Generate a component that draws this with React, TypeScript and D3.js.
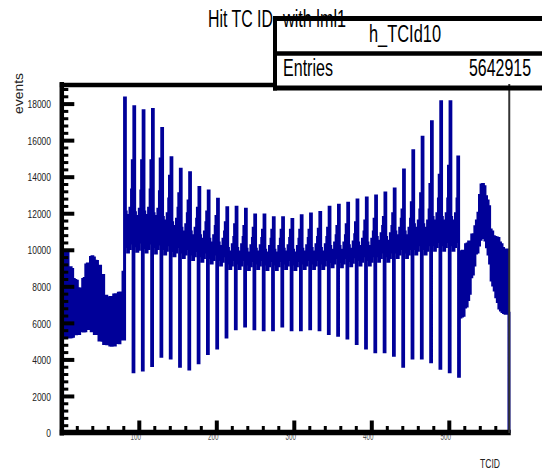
import React from "react";
import * as d3 from "d3";

// ---- data ----
const yTickValues = [0, 2000, 4000, 6000, 8000, 10000, 12000, 14000, 16000, 18000];
const yTickLabels = ["0", "2000", "4000", "6000", "8000", "10000", "12000", "14000", "16000", "18000"];
const xTickValues = [100, 200, 300, 400, 500];
const xTickLabels = ["100", "200", "300", "400", "500"];

// forward endcap, TC 1..80
const fwdEndcap = [
  9850, 5270, 9800, 5300, 9850, 5250, 9820, 5280, 9000, 5260,
  9050, 5270, 8950, 5300, 8400, 5450, 8350, 5430, 8300, 5460,
  7900, 5440, 7850, 5600, 7880, 5620, 8400, 5580, 8450, 5600,
  9200, 5740, 9250, 5720, 9180, 5750, 9600, 5600, 9650, 5620,
  9580, 5450, 9400, 5470, 9380, 5440, 9100, 5090, 9120, 5100,
  8600, 5080, 8620, 4900, 7450, 4920, 7480, 4890, 7400, 4910,
  7380, 4810, 7420, 4800, 7390, 4820, 7550, 4810, 7560, 4950,
  7540, 4960, 7650, 4940, 7660, 5150, 7640, 5160, 8800, 5140,
];

// barrel, TC 81..512 : 36 phi groups x 12 theta
const barrelGroups = [
  [18330, 12100, 10200, 11700, 9900, 11900, 10100, 12300, 10400, 13300, 14900, 3350],
  [17850, 12050, 10250, 11650, 9950, 11850, 10050, 12250, 10450, 13250, 14900, 3450],
  [17630, 12100, 10150, 11700, 9900, 11900, 10100, 12300, 10400, 13300, 14900, 3700],
  [17710, 12000, 10200, 11650, 9850, 11850, 10100, 12250, 10350, 13200, 15000, 4200],
  [16670, 11800, 10100, 11400, 9800, 11600, 10000, 12000, 10300, 12800, 14050, 4100],
  [15060, 11500, 10000, 11100, 9700, 11300, 9900, 11700, 10200, 12300, 13100, 3650],
  [14430, 11200, 9900, 10800, 9600, 11000, 9800, 11400, 10100, 12000, 12700, 3500],
  [14240, 11000, 9800, 10600, 9500, 10800, 9700, 11200, 10000, 11700, 12300, 3850],
  [13440, 10800, 9700, 10400, 9400, 10600, 9600, 11000, 9900, 11500, 12100, 4350],
  [13240, 10600, 9600, 10200, 9300, 10400, 9500, 10800, 9800, 11300, 11850, 4650],
  [12790, 10400, 9500, 10000, 9200, 10200, 9400, 10600, 9700, 11000, 11500, 5250],
  [12330, 10100, 9300, 9700, 9000, 9900, 9200, 10300, 9500, 10700, 11400, 5700],
  [12360, 10100, 9300, 9700, 9000, 9900, 9200, 10300, 9500, 10700, 11300, 5850],
  [12240, 10050, 9250, 9650, 8950, 9850, 9150, 10250, 9450, 10650, 11200, 5700],
  [11930, 10050, 9300, 9700, 9000, 9900, 9200, 10250, 9500, 10650, 11100, 5650],
  [11930, 10000, 9250, 9650, 8950, 9850, 9150, 10200, 9450, 10600, 11100, 5650],
  [11780, 10000, 9250, 9650, 8950, 9850, 9150, 10200, 9450, 10600, 11100, 5850],
  [11780, 10050, 9300, 9700, 9000, 9900, 9200, 10250, 9500, 10650, 11100, 5650],
  [11690, 10000, 9250, 9650, 8950, 9850, 9150, 10200, 9450, 10600, 11100, 5650],
  [11890, 10050, 9300, 9700, 9000, 9900, 9200, 10250, 9500, 10650, 11100, 5700],
  [11980, 10100, 9300, 9700, 9000, 9900, 9200, 10300, 9500, 10700, 11150, 5650],
  [12070, 10100, 9300, 9700, 9000, 9900, 9200, 10300, 9500, 10700, 11200, 5450],
  [12360, 10200, 9400, 9800, 9100, 10000, 9300, 10400, 9600, 10800, 11300, 5350],
  [12470, 10200, 9400, 9800, 9100, 10000, 9300, 10400, 9600, 10800, 11400, 5200],
  [12580, 10250, 9450, 9850, 9150, 10050, 9350, 10450, 9650, 10850, 11500, 4900],
  [12750, 10400, 9500, 10000, 9200, 10200, 9400, 10600, 9700, 11000, 11600, 4650],
  [12860, 10400, 9500, 10000, 9200, 10200, 9400, 10600, 9700, 11000, 11700, 4450],
  [12970, 10700, 9700, 10300, 9400, 10500, 9600, 10900, 9900, 11300, 11800, 4450],
  [13130, 10700, 9700, 10300, 9400, 10500, 9600, 10900, 9900, 11300, 12000, 4250],
  [13350, 11000, 9900, 10600, 9600, 10800, 9800, 11200, 10100, 11700, 12200, 3650],
  [14390, 11000, 9900, 10600, 9600, 10800, 9800, 11200, 10100, 11700, 12600, 4100],
  [15450, 11400, 10100, 11000, 9800, 11200, 10000, 11600, 10300, 12200, 13100, 4100],
  [16180, 11400, 10100, 11000, 9800, 11200, 10000, 11600, 10300, 12200, 13600, 3900],
  [17030, 11800, 10300, 11400, 10000, 11600, 10200, 12000, 10500, 12800, 14100, 3550],
  [18130, 11800, 10300, 11400, 10000, 11600, 10200, 12000, 10500, 12800, 14600, 3350],
  [18130, 11800, 10300, 11400, 10000, 11600, 10200, 12000, 10500, 12800, 15100, 3100],
];

// backward endcap, TC 513..576
const bwdEndcap = [
  9900, 6350, 9920, 6400, 9950, 6450, 9900, 6900,
  10300, 6950, 10350, 7300, 10450, 7650, 10450, 8550,
  10830, 8700, 10850, 9190, 11290, 9850, 11600, 9900,
  12020, 10290, 13000, 10600, 13570, 10700, 13600, 10740,
  13480, 10560, 12930, 10190, 12700, 9800, 12380, 9300,
  11110, 8370, 11000, 8100, 10740, 7820, 10700, 7460,
  10670, 7200, 10650, 6840, 10400, 6730, 10300, 6650,
  10100, 6600, 10010, 6560, 10000, 6550, 10010, 6550,
];

const histTitle = "Hit TC ID";
const histTitle2 = "with lml1";
const histName = "h_TCId10";
const entriesLabel = "Entries";
const entriesValue = "5642915";
const xAxisTitle = "TCID";
const yAxisTitle = "events";

// ---- layout ----
const W = 542;
const H = 472;
const X0 = 61.8;
const X1 = 509.75;
const YB = 433;
const YT = 84;
const HIST_COLOR = "#000099";
const FONT = "'Liberation Sans', Arial, Helvetica, sans-serif";

export default function App() {
  const counts: number[] = [0, ...fwdEndcap, ...barrelGroups.flat(), ...bwdEndcap, 0];
  const x = d3.scaleLinear().domain([0, 578]).range([X0, X1]);
  const y = d3.scaleLinear().domain([0, 19100]).range([YB, YT]);

  const pts: [number, number][] = counts.map((v, i) => [i, v]);
  pts.push([578, 0]);
  const line = d3
    .line<[number, number]>()
    .x((d) => x(d[0]))
    .y((d) => y(d[1]))
    .curve(d3.curveStepAfter);
  const pathD = line(pts) || "";

  const yMinor = d3.range(0, 19100, 400).filter((v) => v % 2000 !== 0);
  const xMinor = d3.range(20, 578, 20).filter((v) => v % 100 !== 0);

  return (
    <div style={{ position: "absolute", left: 0, top: 0 }}>
      <svg width={W} height={H} style={{ display: "block", background: "#fff" }} fontFamily={FONT}>
        <defs>
          <clipPath id="frameClip">
            <rect x={X0} y={YT} width={X1 - X0 + 2} height={YB - YT} />
          </clipPath>
        </defs>
        <rect x={0} y={0} width={W} height={H} fill="#fff" />

        {/* histogram */}
        <path
          d={pathD}
          fill="none"
          stroke={HIST_COLOR}
          strokeWidth={3}
          clipPath="url(#frameClip)"
        />

        {/* y axis ticks */}
        {yMinor.map((v) => (
          <line key={"ym" + v} x1={X0} x2={X0 + 6.5} y1={y(v)} y2={y(v)} stroke="#000" strokeWidth={3} />
        ))}
        {yTickValues.map((v) => (
          <line key={"yM" + v} x1={X0} x2={X0 + 12.5} y1={y(v)} y2={y(v)} stroke="#000" strokeWidth={4} />
        ))}
        {/* x axis ticks */}
        {xMinor.map((v) => (
          <line key={"xm" + v} x1={x(v)} x2={x(v)} y1={YB} y2={YB - 7} stroke="#000" strokeWidth={3} />
        ))}
        {xTickValues.map((v) => (
          <line key={"xM" + v} x1={x(v)} x2={x(v)} y1={YB} y2={YB - 12.5} stroke="#000" strokeWidth={4} />
        ))}

        {/* x tick labels (partly under the axis line) */}
        {xTickValues.map((v, i) => (
          <text
            key={"xl" + v}
            x={x(v) - 3.5}
            y={439.5}
            fontSize={10}
            textAnchor="middle"
            fill="#555"
            textLength={10.5}
            lengthAdjust="spacingAndGlyphs"
          >
            {xTickLabels[i]}
          </text>
        ))}

        {/* frame lines */}
        <line x1={X0} x2={X0} y1={YT - 2} y2={YB + 2.5} stroke="#000" strokeWidth={4.5} />
        <line x1={X0 - 2} x2={X1 + 1} y1={YB - 0.5} y2={YB - 0.5} stroke="#000" strokeWidth={5.5} />
        <line x1={X0 - 2} x2={276} y1={YT + 1} y2={YT + 1} stroke="#000" strokeWidth={4.5} />
        <line x1={X1 - 0.5} x2={X1 - 0.5} y1={YT} y2={YB} stroke="#333" strokeWidth={2} />

        {/* y tick labels */}
        {yTickValues.map((v, i) => (
          <text
            key={"yl" + v}
            x={51}
            y={y(v) + 4.2}
            fontSize={11.5}
            textAnchor="end"
            fill="#222"
            textLength={4.7 * yTickLabels[i].length}
            lengthAdjust="spacingAndGlyphs"
          >
            {yTickLabels[i]}
          </text>
        ))}

        {/* axis titles */}
        <text x={500} y={468} fontSize={13.5} textAnchor="end" fill="#222" textLength={20} lengthAdjust="spacingAndGlyphs">
          {xAxisTitle}
        </text>
        <text
          transform="translate(23,73) rotate(-90)"
          fontSize={13}
          textAnchor="end"
          fill="#222"
          textLength={41}
          lengthAdjust="spacingAndGlyphs"
        >
          {yAxisTitle}
        </text>

        {/* title */}
        <text x={208} y={27} fontSize={23} fill="#000" textLength={65} lengthAdjust="spacingAndGlyphs">
          {histTitle}
        </text>
        <text x={283} y={27} fontSize={23} fill="#000" textLength={63} lengthAdjust="spacingAndGlyphs">
          {histTitle2}
        </text>

        {/* stats box */}
        <line x1={275} x2={W + 2} y1={18.5} y2={18.5} stroke="#000" strokeWidth={5} />
        <line x1={275} x2={W + 2} y1={53.5} y2={53.5} stroke="#000" strokeWidth={4.5} />
        <line x1={273} x2={W + 2} y1={88} y2={88} stroke="#000" strokeWidth={5} />
        <line x1={275} x2={275} y1={16} y2={90.5} stroke="#000" strokeWidth={4} />
        <text x={369} y={42} fontSize={23} fill="#000" textLength={72} lengthAdjust="spacingAndGlyphs">
          {histName}
        </text>
        <text x={283} y={76} fontSize={23} fill="#000" textLength={50} lengthAdjust="spacingAndGlyphs">
          {entriesLabel}
        </text>
        <text x={531} y={76} fontSize={23} fill="#000" textAnchor="end" textLength={62} lengthAdjust="spacingAndGlyphs">
          {entriesValue}
        </text>
      </svg>
    </div>
  );
}
